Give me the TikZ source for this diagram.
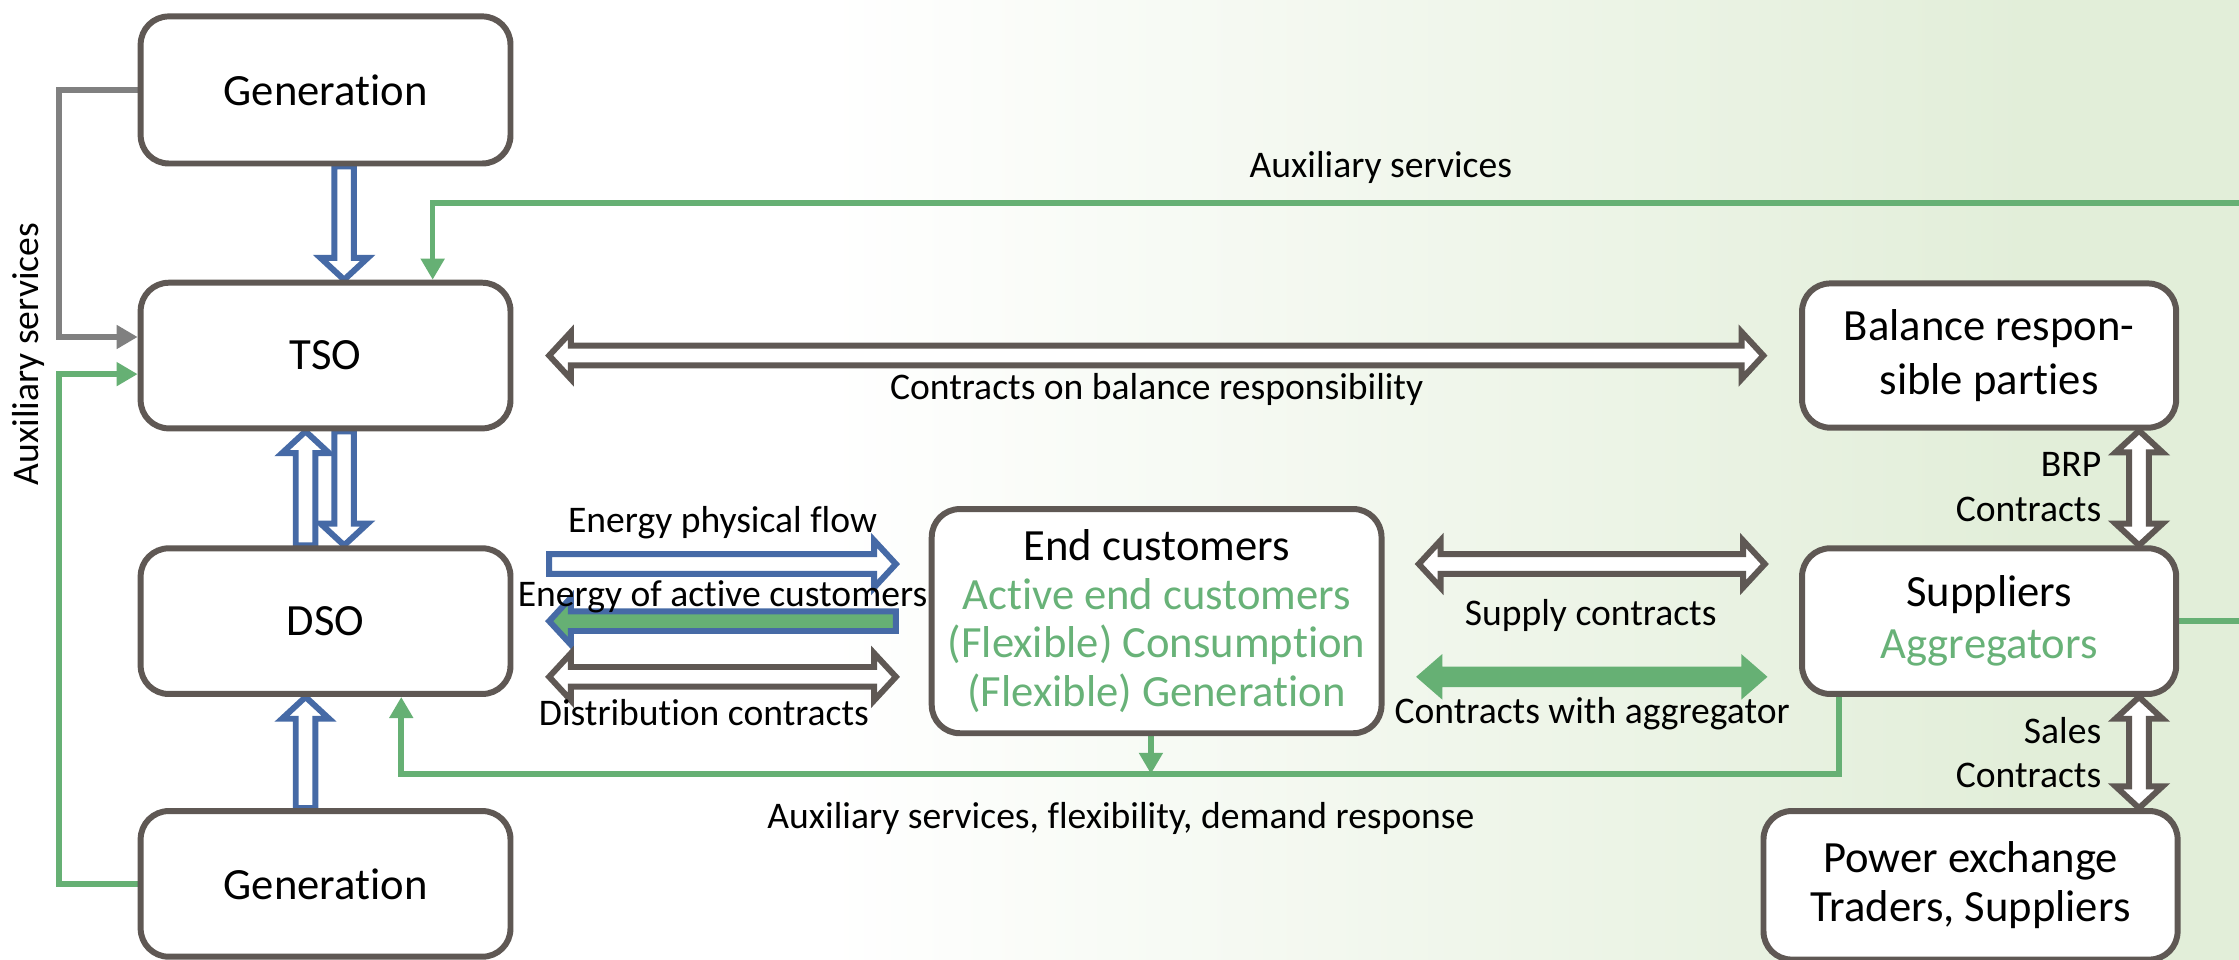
\documentclass[tikz,border=0pt]{standalone}
\usepackage{fontspec}
\setmainfont[Ligatures={NoCommon}]{Carlito}
\usetikzlibrary{calc,arrows.meta}
\definecolor{boxc}{RGB}{95,88,84}
\definecolor{blu}{RGB}{70,106,166}
\definecolor{grn}{RGB}{102,176,116}
\definecolor{gtxt}{RGB}{104,178,120}
\definecolor{bgg}{RGB}{226,238,217}
\pgfdeclarelayer{bg}\pgfdeclarelayer{arr}\pgfsetlayers{bg,arr,main}
\newcommand\boxfont{\fontsize{12.7}{14.8}\selectfont}
\newcommand\lblfont{\fontsize{10.7}{12.7}\selectfont}
\tikzset{
 bs/.code={\def\bS{#1}}, bh/.code={\def\bH{#1}}, bl/.code={\def\bL{#1}},
 blk/.style={line width=1.7pt, line join=miter, miter limit=10, fill=white, bs=2.8, bh=6.7, bl=6.2},
 blueblk/.style={blk, draw=blu},
 darkblk/.style={blk, draw=boxc},
 greenblk/.style={blk, draw=blu, fill=grn},
 solidgreen/.style={line width=1pt, line join=miter, draw=grn, fill=grn, bs=2.4, bh=5.4, bl=6.2},
 box/.style={draw=boxc, line width=1.7pt, rounded corners=8pt, fill=white, align=center, font=\boxfont, inner sep=0pt},
 bsz/.style 2 args={minimum width=#1*0.01428cm, minimum height=#2*0.01428cm},
 lbl/.style={font=\lblfont, inner sep=0pt, align=center},
 thinln/.style={line width=1.6pt},
 conn/.style={thinln, -{Triangle[length=6pt,width=6.5pt]}},
}
\newcommand\blkone[3]{\draw[#1] let \p1=(#2),\p2=(#3),\p3=($(\p1)!1pt!(\p2)$),\n1={\x3-\x1},\n2={\y3-\y1} in
 ({\x1-\bS*(\n2)},{\y1+\bS*(\n1)})
 -- ({\x2-\bL*(\n1)-\bS*(\n2)},{\y2-\bL*(\n2)+\bS*(\n1)})
 -- ({\x2-\bL*(\n1)-\bH*(\n2)},{\y2-\bL*(\n2)+\bH*(\n1)})
 -- (\p2)
 -- ({\x2-\bL*(\n1)+\bH*(\n2)},{\y2-\bL*(\n2)-\bH*(\n1)})
 -- ({\x2-\bL*(\n1)+\bS*(\n2)},{\y2-\bL*(\n2)-\bS*(\n1)})
 -- ({\x1+\bS*(\n2)},{\y1-\bS*(\n1)}) -- cycle;}
\newcommand\blktwo[3]{\draw[#1] let \p1=(#2),\p2=(#3),\p3=($(\p1)!1pt!(\p2)$),\n1={\x3-\x1},\n2={\y3-\y1} in
 (\p1)
 -- ({\x1+\bL*(\n1)-\bH*(\n2)},{\y1+\bL*(\n2)+\bH*(\n1)})
 -- ({\x1+\bL*(\n1)-\bS*(\n2)},{\y1+\bL*(\n2)+\bS*(\n1)})
 -- ({\x2-\bL*(\n1)-\bS*(\n2)},{\y2-\bL*(\n2)+\bS*(\n1)})
 -- ({\x2-\bL*(\n1)-\bH*(\n2)},{\y2-\bL*(\n2)+\bH*(\n1)})
 -- (\p2)
 -- ({\x2-\bL*(\n1)+\bH*(\n2)},{\y2-\bL*(\n2)-\bH*(\n1)})
 -- ({\x2-\bL*(\n1)+\bS*(\n2)},{\y2-\bL*(\n2)-\bS*(\n1)})
 -- ({\x1+\bL*(\n1)+\bS*(\n2)},{\y1+\bL*(\n2)-\bS*(\n1)})
 -- ({\x1+\bL*(\n1)+\bH*(\n2)},{\y1+\bL*(\n2)-\bH*(\n1)})
 -- cycle;}
\begin{document}
\begin{tikzpicture}[x=0.01428cm,y=-0.01428cm]
\useasboundingbox (0,0) rectangle (1568,672);
\begin{pgfonlayer}{bg}
 \fill[white] (0,0) rectangle (1568,672);
 \shade[left color=white,right color=bgg] (580,0) rectangle (1420,672);
 \fill[bgg] (1419,0) rectangle (1568,672);
\end{pgfonlayer}
% boxes
\node[box,bsz={259}{103}] (gen1) at (228,63) {Generation};
\node[box,bsz={259}{102}] (tso) at (228,249) {TSO};
\node[box,bsz={259}{102}] (dso) at (228,435) {DSO};
\node[box,bsz={259}{102}] (gen2) at (228,619) {Generation};
\node[box,bsz={315}{157},font={\fontsize{12.7}{13.8}\selectfont}] (endc) at (810,435)
 {End customers\\\textcolor{gtxt}{Active end customers}\\\textcolor{gtxt}{(Flexible) Consumption}\\\textcolor{gtxt}{(Flexible) Generation}};
\node[box,bsz={262}{101},font={\fontsize{12.7}{15.4}\selectfont}] (brp) at (1393,249) {Balance respon-\\sible parties};
\node[box,bsz={262}{102},font={\fontsize{12.7}{14.8}\selectfont}] (sup) at (1393,435) {Suppliers\\\textcolor{gtxt}{Aggregators}};
\node[box,bsz={290}{104},font={\fontsize{12.7}{14.1}\selectfont}] (pex) at (1380,620) {Power exchange\\Traders, Suppliers};
% labels
\node[lbl,rotate=90] (auxl) at (20,248) {Auxiliary services};
\node[lbl] (auxt) at (967,117) {Auxiliary services};
\node[lbl] (cbr) at (810,273) {Contracts on balance responsibility};
\node[lbl] (epf) at (506,366) {Energy physical flow};
\node[lbl] (eac) at (506,418) {Energy of active customers};
\node[lbl] (dc) at (493,499) {Distribution contracts};
\node[lbl] (sc) at (1114,431) {Supply contracts};
\node[lbl] (cwa) at (1115,500) {Contracts with aggregator};
\node[lbl,anchor=east,align=right] (brpl) at (1472,341) {BRP\\Contracts};
\node[lbl,anchor=east,align=right] (salesl) at (1472,527) {Sales\\Contracts};
\node[lbl] (auxb) at (785,573) {Auxiliary services, flexibility, demand response};
% connectors
\coordinate (rtop) at (1568,142);
\coordinate (rmid) at (1568,435);
\coordinate (bus) at (810,542);
\coordinate (ecb) at ($(endc.south)+(-4,0)$);
\begin{pgfonlayer}{arr}
\blkone{blueblk}{$(gen1.south)+(13,0)$}{$(tso.north)+(13,0)$}
\blkone{blueblk}{$(tso.south)+(13,0)$}{$(dso.north)+(13,0)$}
\blkone{blueblk}{$(dso.north)+(-14,0)$}{$(tso.south)+(-14,0)$}
\blkone{blueblk}{$(gen2.north)+(-14,0)$}{$(dso.south)+(-14,0)$}
\blkone{blueblk}{$(dso.east)+(25,-40)$}{$(endc.west)+(-23,-40)$}
\blkone{greenblk}{$(endc.west)+(-23,0)$}{$(dso.east)+(25,0)$}
\blktwo{darkblk}{$(dso.east)+(25,39)$}{$(endc.west)+(-23,39)$}
\blktwo{darkblk}{$(tso.east)+(25,0)$}{$(brp.west)+(-25,0)$}
\blktwo{darkblk}{$(endc.east)+(24,-40)$}{$(sup.west)+(-24,-40)$}
\blktwo{solidgreen}{$(endc.east)+(24,39)$}{$(sup.west)+(-24,39)$}
\blktwo{darkblk}{$(brp.south)+(105,0)$}{$(sup.north)+(105,0)$}
\blktwo{darkblk}{$(sup.south)+(105,0)$}{$(pex.north)+(118,0)$}
\draw[conn,gray] (gen1.west) -- ++(-55,0) |- ($(tso.west)+(0,-13)$);
\draw[conn,grn] (gen2.west) -- ++(-55,0) |- ($(tso.west)+(0,13)$);
\draw[conn,grn] (rtop) -| ($(tso.north)+(75,0)$);
\draw[thinln,grn] (sup.east) -- (rmid);
\draw[conn,grn] ($(sup.south)+(-105,0)$) |- (bus) -| ($(dso.south)+(53,0)$);
\draw[conn,grn] (ecb) -- (ecb |- bus);
\end{pgfonlayer}
\end{tikzpicture}
\end{document}
